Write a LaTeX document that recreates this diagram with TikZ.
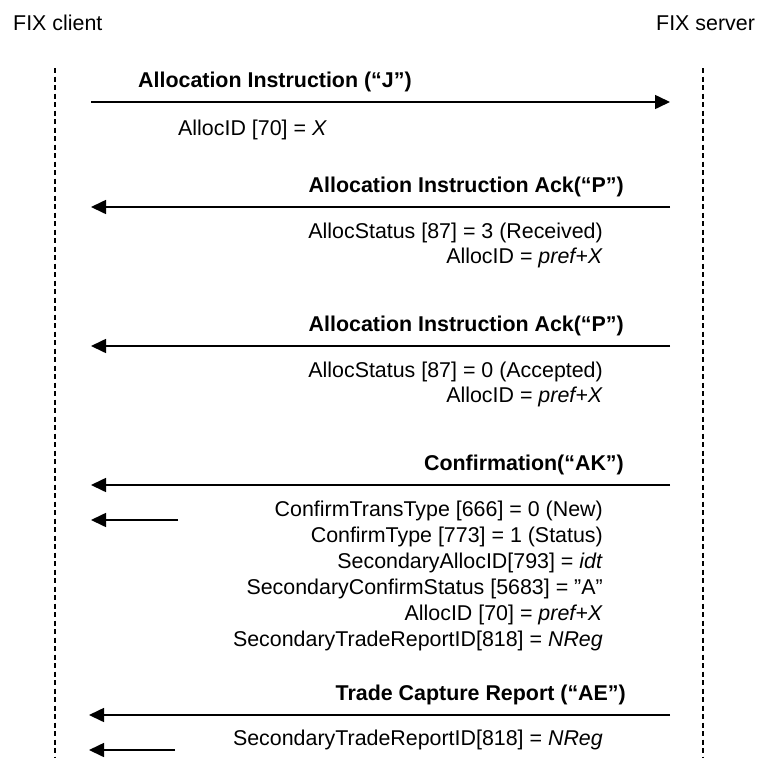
\documentclass[tikz,border=0pt]{standalone}
\usepackage{fontspec}
\setmainfont{Liberation Sans}
\usetikzlibrary{arrows.meta}

\tikzset{
  lifeline/.style={line width=1.2pt, dash pattern=on 5pt off 3.5pt},
  msg/.style={line width=1.6pt, -{Triangle[length=15pt,width=14pt]}},
  txt/.style={inner sep=0pt, font=\fontsize{21.4}{25.5}\selectfont},
  msgname/.style={inner sep=0pt, font=\fontsize{21.4}{25.5}\selectfont\bfseries},
}

\begin{document}
\begin{tikzpicture}[x=1pt, y=-1pt]
        \useasboundingbox (0,0) rectangle (758,758);

        % Parties
        \node at (13,30) (client) [txt, anchor=base west] {FIX client};
        \node at (656,30) (server) [txt, anchor=base west] {FIX server};

        % Lifelines
        \coordinate (ctop) at (55,68);
        \coordinate (cbot) at (55,758);
        \coordinate (stop) at (703,68);
        \coordinate (sbot) at (703,758);
        \draw[lifeline] (ctop) -- (cbot);
        \draw[lifeline] (stop) -- (sbot);

        % Message ends
        \coordinate (c1) at (91,102);   \coordinate (s1) at (670,102);
        \coordinate (c2) at (91,207);   \coordinate (s2) at (670,207);
        \coordinate (c3) at (91,346);   \coordinate (s3) at (670,346);
        \coordinate (c4) at (91,485);   \coordinate (s4) at (670,485);
        \coordinate (c4b) at (91,520);  \coordinate (t4) at (178,520);
        \coordinate (c5) at (89,715);   \coordinate (s5) at (670,715);
        \coordinate (c5b) at (89,750);  \coordinate (t5) at (175,750);

        % Allocation instruction
        \node at (138,87) (n1) [msgname, anchor=base west] {Allocation Instruction (“J”)};
        \draw[msg] (c1) -- (s1);
        \node at (178,135) (f1) [txt, anchor=base west] {AllocID [70] = \textit{X}};

        % First ack
        \node at (624,192) (n2) [msgname, anchor=base east] {Allocation Instruction Ack(“P”)};
        \draw[msg] (s2) -- (c2);
        \node at (603,238) (f2a) [txt, anchor=base east] {AllocStatus [87] = 3 (Received)};
        \node at (603,263.5) (f2b) [txt, anchor=base east] {AllocID = \textit{pref+X}};

        % Second ack
        \node at (624,331) (n3) [msgname, anchor=base east] {Allocation Instruction Ack(“P”)};
        \draw[msg] (s3) -- (c3);
        \node at (603,377) (f3a) [txt, anchor=base east] {AllocStatus [87] = 0 (Accepted)};
        \node at (603,402.5) (f3b) [txt, anchor=base east] {AllocID = \textit{pref+X}};

        % Confirmation
        \node at (624,470) (n4) [msgname, anchor=base east] {Confirmation(“AK”)};
        \draw[msg] (s4) -- (c4);
        \draw[msg] (t4) -- (c4b);
        \node at (603,516) (f4a) [txt, anchor=base east] {ConfirmTransType [666] = 0 (New)};
        \node at (603,542) (f4b) [txt, anchor=base east] {ConfirmType [773] = 1 (Status)};
        \node at (603,568) (f4c) [txt, anchor=base east] {SecondaryAllocID[793] = \textit{idt}};
        \node at (603,594) (f4d) [txt, anchor=base east] {SecondaryConfirmStatus [5683] = ”A”};
        \node at (603,620) (f4e) [txt, anchor=base east] {AllocID [70] = \textit{pref+X}};
        \node at (603,646) (f4f) [txt, anchor=base east] {SecondaryTradeReportID[818] = \textit{NReg}};

        % Trade capture report
        \node at (626,700) (n5) [msgname, anchor=base east] {Trade Capture Report (“AE”)};
        \draw[msg] (s5) -- (c5);
        \draw[msg] (t5) -- (c5b);
        \node at (603,745) (f5) [txt, anchor=base east] {SecondaryTradeReportID[818] = \textit{NReg}};
\end{tikzpicture}
\end{document}
